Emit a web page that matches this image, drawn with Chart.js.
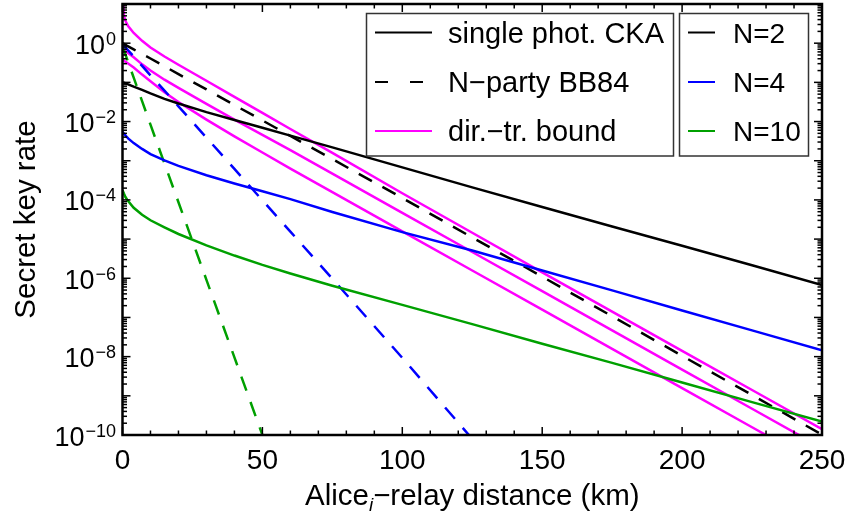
<!DOCTYPE html>
<html lang="en">
<head>
<meta charset="UTF-8">
<title>Secret key rate vs Alice-relay distance</title>
<script src="https://cdn.jsdelivr.net/npm/chart.js"></script>
<style>
    html, body {
        margin: 0;
        padding: 0;
        background: #fff;
    }
    canvas {
        display: block;
    }
</style>
</head>
<body>
<canvas id="rateChart" width="850" height="522"></canvas>
<script>
    // distance Alice_i - relay (km), shared by every curve
    const distanceKm = [0, 0.5, 1, 2, 4, 7, 10, 15, 20, 30, 40, 50, 60, 75, 100, 125, 150, 175, 200, 225, 250];

    // single photon CKA
    const ckaN2 = [1.00e-1, 9.77e-2, 9.55e-2, 8.91e-2, 7.76e-2, 6.46e-2, 5.25e-2, 3.80e-2, 2.88e-2, 1.74e-2, 1.10e-2,
        6.92e-3, 4.37e-3, 2.19e-3, 6.76e-4, 2.09e-4, 6.61e-5, 2.09e-5, 6.76e-6, 2.14e-6, 6.76e-7];
    const ckaN4 = [5.50e-3, 4.90e-3, 4.47e-3, 3.72e-3, 2.82e-3, 2.00e-3, 1.48e-3, 1.02e-3, 7.41e-4, 4.27e-4, 2.63e-4,
        1.66e-4, 1.05e-4, 4.90e-5, 1.51e-5, 5.13e-6, 1.58e-6, 4.90e-7, 1.51e-7, 4.68e-8, 1.45e-8];
    const ckaN10 = [1.78e-4, 1.45e-4, 1.20e-4, 9.33e-5, 6.31e-5, 4.17e-5, 3.02e-5, 2.00e-5, 1.35e-5, 6.92e-6, 3.80e-6,
        2.19e-6, 1.32e-6, 6.46e-7, 2.09e-7, 6.76e-8, 2.14e-8, 6.92e-9, 2.19e-9, 6.92e-10, 2.19e-10];

    // N-party BB84
    const bb84N2 = [1.00, 0.955, 0.912, 0.832, 0.692, 0.525, 0.407, 0.257, 0.162, 6.61e-2, 2.63e-2,
        1.07e-2, 4.27e-3, 1.10e-3, 1.12e-4, 1.10e-5, 1.10e-6, 1.07e-7, 1.05e-8, 1.05e-9, 1.02e-10];
    const bb84N4 = [0.955, 0.871, 0.794, 0.661, 0.457, 0.263, 0.151, 6.17e-2, 2.45e-2, 3.89e-3, 6.17e-4,
        9.77e-5, 1.55e-5, 9.77e-7, 9.33e-9, 7.94e-11, 6.76e-13, null, null, null, null];
    const bb84N10 = [0.832, 0.661, 0.525, 0.331, 0.132, 3.31e-2, 8.32e-3, 8.51e-4, 8.71e-5, 9.12e-7, 9.55e-9,
        1.00e-10, 1.00e-12, null, null, null, null, null, null, null, null];

    // direct transmission bounds
    const boundN2 = [31.6, 5.01, 3.80, 2.75, 1.82, 1.15, 0.776, 0.457, 0.282, 0.110, 4.27e-2,
        1.66e-2, 6.46e-3, 1.58e-3, 1.48e-4, 1.45e-5, 1.41e-6, 1.41e-7, 1.41e-8, 1.41e-9, 1.41e-10];
    const boundN4 = [0.741, 0.692, 0.646, 0.562, 0.437, 0.288, 0.200, 0.117, 7.24e-2, 2.82e-2, 1.12e-2,
        4.57e-3, 1.86e-3, 4.68e-4, 4.68e-5, 4.68e-6, 4.68e-7, 4.68e-8, 4.68e-9, 4.68e-10, 4.68e-11];
    const boundN10 = [0.380, 0.355, 0.339, 0.302, 0.240, 0.158, 0.107, 5.62e-2, 3.16e-2, 1.12e-2, 4.17e-3,
        1.62e-3, 6.31e-4, 1.58e-4, 1.58e-5, 1.58e-6, 1.58e-7, 1.58e-8, 1.58e-9, 1.58e-10, 1.58e-11];

    const xTickLabels = [0, 50, 100, 150, 200, 250];
    const yTickExponents = [0, -2, -4, -6, -8, -10];
    const styleLabels = ['single phot. CKA', 'N\u2212party BB84', 'dir.\u2212tr. bound'];
    const sizeLabels = ['N=2', 'N=4', 'N=10'];

    const BLACK = '#000000', BLUE = '#0000ff', GREEN = '#00a000', MAGENTA = '#ff00ff';
    const DASH = [15, 12];
    const FONT = 'Arial, "Liberation Sans", sans-serif';

    const toPoints = ys => distanceKm.map((x, i) => ({x: x, y: ys[i]}));

    function series(values, color, dashed) {
        return {
            data: toPoints(values),
            borderColor: color,
            borderWidth: 2.5,
            borderDash: dashed ? DASH : [],
            pointRadius: 0,
            fill: false,
            tension: 0,
            clip: 0
        };
    }

    // frame, inside ticks, tick labels, axis titles and the two legend boxes
    const framePlugin = {
        id: 'frame',
        beforeDraw(chart) {
            const ctx = chart.ctx;
            ctx.save();
            ctx.fillStyle = '#fff';
            ctx.fillRect(0, 0, chart.width, chart.height);
            ctx.restore();
        },
        afterDraw(chart) {
            const {ctx, chartArea: a, scales: {x, y}} = chart;
            ctx.save();

            const seg = (x1, y1, x2, y2) => {
                ctx.beginPath();
                ctx.moveTo(x1, y1);
                ctx.lineTo(x2, y2);
                ctx.stroke();
            };

            // ticks
            ctx.strokeStyle = '#000';
            ctx.lineWidth = 1.5;
            for (let km = 0; km <= 250; km += 10) {
                const px = x.getPixelForValue(km);
                const len = km % 50 === 0 ? 8 : 4.5;
                seg(px, a.bottom, px, a.bottom - len);
                seg(px, a.top, px, a.top + len);
            }
            for (let k = -10; k <= 0; k++) {
                for (let m = 1; m <= 9; m++) {
                    const py = y.getPixelForValue(m * Math.pow(10, k));
                    const len = m === 1 ? 8 : 4.5;
                    seg(a.left, py, a.left + len, py);
                    seg(a.right, py, a.right - len, py);
                }
            }

            // frame
            ctx.lineWidth = 2.5;
            ctx.strokeRect(a.left, a.top, a.right - a.left, a.bottom - a.top);

            ctx.fillStyle = '#000';

            // x tick labels
            ctx.font = '28px ' + FONT;
            ctx.textAlign = 'center';
            ctx.textBaseline = 'alphabetic';
            xTickLabels.forEach(v => {
                ctx.fillText(String(v), x.getPixelForValue(v), a.bottom + 34);
            });

            // y tick labels 10^k
            ctx.textAlign = 'right';
            yTickExponents.forEach(e => {
                const py = y.getPixelForValue(Math.pow(10, e));
                const sup = e === 0 ? '0' : '\u2212' + (-e);
                ctx.font = '18px ' + FONT;
                const w = ctx.measureText(sup).width;
                ctx.fillText(sup, 116, py + 1.5);
                ctx.font = '27px ' + FONT;
                ctx.fillText('10', 116 - w - 1, py + 10.5);
            });

            // y axis title
            ctx.save();
            ctx.translate(35, (a.top + a.bottom) / 2);
            ctx.rotate(-Math.PI / 2);
            ctx.textAlign = 'center';
            ctx.font = '29.5px ' + FONT;
            ctx.fillText('Secret key rate', 0, 0);
            ctx.restore();

            // x axis title with subscript i
            const parts = [
                {t: 'Alice', f: '29.5px ' + FONT, dy: 0},
                {t: 'i', f: 'italic 19px ' + FONT, dy: 6},
                {t: '\u2212relay distance (km)', f: '29.5px ' + FONT, dy: 0}
            ];
            let total = 0;
            parts.forEach(p => {
                ctx.font = p.f;
                p.w = ctx.measureText(p.t).width;
                total += p.w;
            });
            let cx = (a.left + a.right) / 2 - total / 2;
            ctx.textAlign = 'left';
            parts.forEach(p => {
                ctx.font = p.f;
                ctx.fillText(p.t, cx, 505 + p.dy);
                cx += p.w;
            });

            // legend boxes
            const rows = [32.5, 82, 131];
            ctx.lineWidth = 1.5;
            ctx.strokeStyle = '#333';
            ctx.fillStyle = '#fff';
            ctx.fillRect(366.5, 13.5, 307, 142.5);
            ctx.fillRect(679.5, 13.5, 129, 142.5);
            ctx.strokeRect(366.5, 13.5, 307, 142.5);
            ctx.strokeRect(679.5, 13.5, 129, 142.5);

            const styleLines = [
                {c: BLACK, d: []},
                {c: BLACK, d: [13, 22]},
                {c: MAGENTA, d: []}
            ];
            const sizeColors = [BLACK, BLUE, GREEN];

            ctx.textAlign = 'left';
            rows.forEach((ry, i) => {
                ctx.strokeStyle = styleLines[i].c;
                ctx.setLineDash(styleLines[i].d);
                ctx.lineWidth = 2;
                seg(375, ry, 432, ry);
                ctx.setLineDash([]);
                ctx.fillStyle = '#000';
                ctx.font = '29px ' + FONT;
                ctx.fillText(styleLabels[i], 448, ry + 10);

                ctx.strokeStyle = sizeColors[i];
                ctx.lineWidth = 2;
                seg(688, ry, 715, ry);
                ctx.font = '28px ' + FONT;
                ctx.fillText(sizeLabels[i], 733, ry + 10);
            });

            ctx.restore();
        }
    };

    new Chart(document.getElementById('rateChart'), {
        type: 'line',
        data: {
            datasets: [
                series(ckaN2, BLACK, false),
                series(ckaN4, BLUE, false),
                series(ckaN10, GREEN, false),
                series(bb84N2, BLACK, true),
                series(bb84N4, BLUE, true),
                series(bb84N10, GREEN, true),
                series(boundN2, MAGENTA, false),
                series(boundN4, MAGENTA, false),
                series(boundN10, MAGENTA, false)
            ]
        },
        options: {
            responsive: false,
            animation: false,
            layout: {
                padding: {top: 4, right: 28, left: 0, bottom: 0}
            },
            scales: {
                x: {
                    type: 'linear',
                    min: 0,
                    max: 250,
                    ticks: {display: false},
                    grid: {display: false},
                    border: {display: false},
                    afterFit: s => { s.height = 87; }
                },
                y: {
                    type: 'logarithmic',
                    min: 1e-10,
                    max: 10,
                    ticks: {display: false},
                    grid: {display: false},
                    border: {display: false},
                    afterFit: s => { s.width = 122.5; }
                }
            },
            plugins: {
                legend: {display: false},
                tooltip: {enabled: false}
            }
        },
        plugins: [framePlugin]
    });
</script>
</body>
</html>
